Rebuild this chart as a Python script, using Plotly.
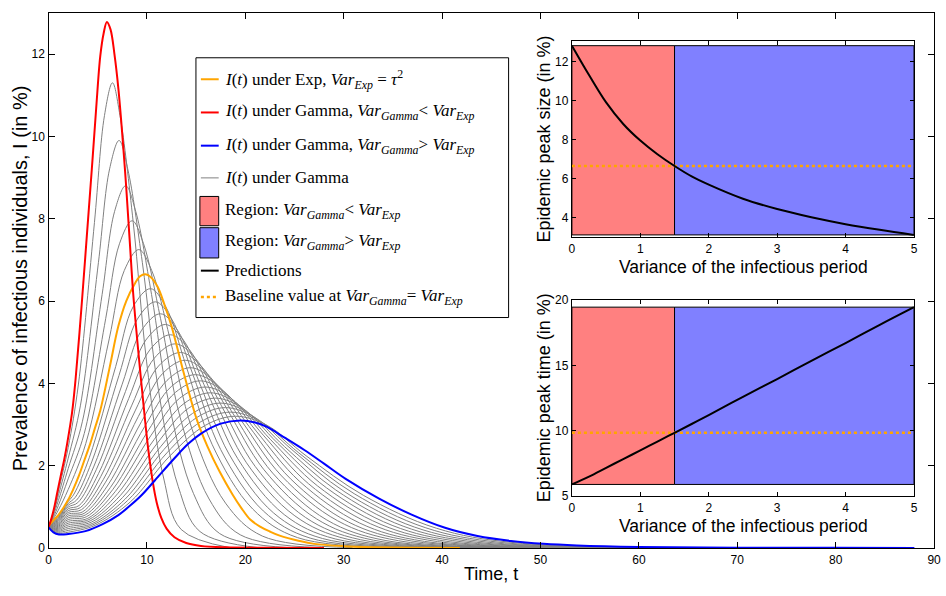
import plotly.graph_objects as go

# ---------------- main panel: prevalence curves I(t), in % ----------------
# Exponential infectious period (Var = tau^2)
exp_t = [0, 0.5, 1.0, 1.5, 2.0, 2.5, 3.08, 3.6, 4.25, 4.7, 5.26, 6.2, 7.1, 7.9, 8.77, 9.3,
         9.85, 10.4, 11.1, 11.8, 12.5, 13.8, 15.1, 16.15, 17.4, 18.7, 19.6, 20.5, 21.5,
         22.5, 23.5, 25.5, 27.0, 30.0, 33.0, 37.0, 41.8]
exp_i = [0.53, 0.67, 0.8, 0.97, 1.17, 1.42, 1.75, 2.1, 2.54, 2.9, 3.34, 4.37, 5.39, 6.0,
         6.42, 6.6, 6.65, 6.58, 6.34, 5.9, 5.39, 4.2, 3.1, 2.47, 1.85, 1.3, 0.97, 0.69,
         0.52, 0.4, 0.3, 0.17, 0.1, 0.045, 0.02, 0.007, 0.002]

# Gamma, variance below the exponential one
low_t = [0, 0.3, 0.57, 0.9, 1.24, 1.6, 1.9, 2.4, 2.75, 3.4, 3.9, 4.4, 4.85, 5.26, 5.6,
         5.93, 6.3, 6.7, 7.1, 7.77, 8.27, 8.6, 9.1, 9.78, 10.1, 10.6, 11.0, 11.46, 12.0,
         12.8, 14.0, 15.5, 18.0, 22.0, 28.0]
low_i = [0.5, 0.72, 0.97, 1.36, 1.75, 2.15, 2.54, 3.3, 4.1, 6.0, 7.6, 9.2, 10.7, 11.95,
         12.5, 12.78, 12.6, 12.0, 11.16, 9.19, 7.4, 6.2, 4.84, 3.18, 2.47, 1.6, 1.1,
         0.73, 0.47, 0.26, 0.12, 0.05, 0.015, 0.003, 0.0]

# Gamma, variance above the exponential one
high_t = [0, 0.5, 1.07, 2.0, 3.75, 5.5, 7.1, 8.3, 9.45, 10.8, 12.8, 14.2, 15.5, 17.5,
          19.5, 21.0, 22.2, 24.0, 26.0, 28.0, 30.2, 33.6, 36.9, 40.3, 43.6, 47.0, 50.3,
          53.7, 60.0, 70.0, 80.0, 88.0]
high_i = [0.5, 0.38, 0.33, 0.34, 0.41, 0.58, 0.8, 1.03, 1.28, 1.64, 2.18, 2.53, 2.78,
          3.02, 3.1, 3.05, 2.94, 2.68, 2.38, 2.05, 1.68, 1.2, 0.81, 0.49, 0.29, 0.17,
          0.1, 0.06, 0.025, 0.008, 0.003, 0.001]

# Family of Gamma curves for a range of variances
gray_t = [
    [0, 0.5, 1, 2, 3.03, 4.67, 5.69, 6.5, 7.26, 8.61, 9.97, 11.7, 13.48, 18.4],
    [0, 0.5, 1, 2, 3.25, 5.07, 6.21, 7.17, 8.05, 9.54, 11.09, 13.19, 15.39, 21.3],
    [0, 0.5, 1, 2, 3.45, 5.45, 6.72, 7.84, 8.86, 10.47, 12.23, 14.74, 17.4, 24.3],
    [0, 0.5, 1, 2, 3.63, 5.81, 7.21, 8.5, 9.66, 11.39, 13.37, 16.32, 19.49, 27.5],
    [0, 0.5, 1, 2, 3.79, 6.17, 7.70, 9.18, 10.49, 12.35, 14.57, 17.99, 21.73, 30.9],
    [0, 0.5, 1, 2, 2.59, 4.16, 6.83, 8.60, 10.36, 11.92, 14.00, 16.62, 20.76, 25.31, 36.4],
    [0, 0.5, 1, 2, 2.72, 4.39, 7.16, 9.03, 10.87, 12.52, 14.71, 17.50, 21.83, 26.59, 38.4],
    [0, 0.5, 1, 2, 2.84, 4.62, 7.49, 9.46, 11.37, 13.11, 15.40, 18.35, 22.88, 27.85, 40.3],
    [0, 0.5, 1, 2, 2.97, 4.85, 7.82, 9.89, 11.88, 13.71, 16.11, 19.23, 23.96, 29.14, 42.3],
    [0, 0.5, 1, 2, 3.10, 5.09, 8.15, 10.32, 12.39, 14.31, 16.82, 20.12, 25.04, 30.43, 44.3],
    [0, 0.5, 1, 2, 3.23, 5.32, 8.47, 10.75, 12.90, 14.92, 17.54, 21.01, 26.13, 31.72, 46.4],
    [0, 0.5, 1, 2, 3.35, 5.56, 8.80, 11.18, 13.41, 15.52, 18.25, 21.90, 27.22, 33.02, 48.4],
    [0, 0.5, 1, 2, 3.48, 5.80, 9.12, 11.60, 13.91, 16.11, 18.95, 22.78, 28.29, 34.29, 50.4],
    [0, 0.5, 1, 2, 3.61, 6.04, 9.45, 12.04, 14.42, 16.72, 19.67, 23.69, 29.39, 35.59, 52.5],
    [0, 0.5, 1, 2, 3.73, 6.29, 9.77, 12.47, 14.93, 17.33, 20.39, 24.60, 30.49, 36.90, 54.6],
    [0, 0.5, 1, 2, 3.86, 6.53, 10.10, 12.90, 15.44, 17.94, 21.11, 25.51, 31.59, 38.21, 56.7],
    [0, 0.5, 1, 2, 3.99, 6.78, 10.43, 13.34, 15.95, 18.54, 21.83, 26.43, 32.71, 39.52, 58.8],
    [0, 0.5, 1, 2, 4.11, 7.03, 10.75, 13.77, 16.45, 19.14, 22.54, 27.33, 33.80, 40.81, 60.9],
    [0, 0.5, 1, 2, 4.24, 7.28, 11.07, 14.20, 16.96, 19.75, 23.27, 28.26, 34.92, 42.13, 63.1],
    [0, 0.5, 1, 2, 4.37, 7.54, 11.39, 14.64, 17.47, 20.37, 24.00, 29.19, 36.04, 43.46, 65.3],
    [0, 0.5, 1, 2, 4.50, 7.80, 11.72, 15.07, 17.98, 20.98, 24.73, 30.13, 37.17, 44.78, 67.5],
    [0, 0.5, 1, 2, 4.62, 8.05, 12.03, 15.50, 18.48, 21.58, 25.44, 31.06, 38.28, 46.08, 69.6],
    [0, 0.5, 1, 2, 4.75, 8.32, 12.35, 15.94, 18.99, 22.20, 26.18, 32.00, 39.42, 47.41, 71.9],
]
gray_i = [
    [0.5, 0.88, 1.38, 2.44, 3.96, 7.91, 10.51, 11.3, 10.51, 7.91, 4.52, 1.70, 0.45, 0.01],
    [0.5, 0.84, 1.27, 2.18, 3.47, 6.93, 9.21, 9.9, 9.21, 6.93, 3.96, 1.49, 0.40, 0.01],
    [0.5, 0.80, 1.15, 1.93, 3.08, 6.16, 8.18, 8.8, 8.18, 6.16, 3.52, 1.32, 0.35, 0.01],
    [0.5, 0.75, 1.03, 1.68, 2.78, 5.57, 7.39, 7.95, 7.39, 5.57, 3.18, 1.19, 0.32, 0.01],
    [0.5, 0.71, 0.92, 1.42, 2.54, 5.08, 6.74, 7.25, 6.74, 5.08, 2.90, 1.09, 0.29, 0.01],
    [0.5, 0.655, 0.775, 1.126, 1.31, 2.205, 4.41, 5.86, 6.30, 5.86, 4.41, 2.52, 0.945, 0.252, 0.008],
    [0.5, 0.64, 0.75, 1.08, 1.23, 2.09, 4.19, 5.56, 5.98, 5.56, 4.19, 2.39, 0.90, 0.24, 0.008],
    [0.5, 0.624, 0.726, 1.039, 1.16, 1.99, 3.98, 5.29, 5.69, 5.29, 3.98, 2.28, 0.85, 0.23, 0.008],
    [0.5, 0.609, 0.701, 0.995, 1.10, 1.90, 3.80, 5.05, 5.43, 5.05, 3.80, 2.17, 0.81, 0.22, 0.008],
    [0.5, 0.594, 0.676, 0.952, 1.03, 1.81, 3.63, 4.82, 5.18, 4.82, 3.63, 2.07, 0.78, 0.21, 0.008],
    [0.5, 0.578, 0.652, 0.908, 0.98, 1.74, 3.47, 4.61, 4.96, 4.61, 3.47, 1.98, 0.74, 0.20, 0.008],
    [0.5, 0.563, 0.627, 0.864, 0.93, 1.66, 3.33, 4.42, 4.75, 4.42, 3.33, 1.90, 0.71, 0.19, 0.008],
    [0.5, 0.548, 0.602, 0.821, 0.88, 1.60, 3.19, 4.24, 4.56, 4.24, 3.19, 1.82, 0.68, 0.18, 0.008],
    [0.5, 0.533, 0.577, 0.777, 0.84, 1.53, 3.07, 4.07, 4.38, 4.07, 3.07, 1.75, 0.66, 0.175, 0.008],
    [0.5, 0.517, 0.553, 0.733, 0.80, 1.47, 2.95, 3.92, 4.21, 3.92, 2.95, 1.68, 0.63, 0.17, 0.008],
    [0.5, 0.502, 0.528, 0.690, 0.76, 1.42, 2.84, 3.78, 4.06, 3.78, 2.84, 1.62, 0.61, 0.16, 0.008],
    [0.5, 0.487, 0.503, 0.646, 0.72, 1.37, 2.74, 3.64, 3.91, 3.64, 2.74, 1.56, 0.59, 0.156, 0.008],
    [0.5, 0.472, 0.478, 0.602, 0.69, 1.32, 2.64, 3.51, 3.77, 3.51, 2.64, 1.51, 0.57, 0.15, 0.008],
    [0.5, 0.456, 0.454, 0.559, 0.66, 1.27, 2.55, 3.39, 3.64, 3.39, 2.55, 1.46, 0.55, 0.146, 0.008],
    [0.5, 0.441, 0.429, 0.515, 0.63, 1.23, 2.46, 3.27, 3.52, 3.27, 2.46, 1.41, 0.53, 0.14, 0.008],
    [0.5, 0.426, 0.404, 0.471, 0.60, 1.19, 2.39, 3.17, 3.41, 3.17, 2.39, 1.36, 0.51, 0.136, 0.008],
    [0.5, 0.41, 0.38, 0.427, 0.575, 1.155, 2.31, 3.07, 3.30, 3.07, 2.31, 1.32, 0.495, 0.132, 0.008],
    [0.5, 0.395, 0.355, 0.384, 0.55, 1.12, 2.24, 2.98, 3.20, 2.98, 2.24, 1.28, 0.48, 0.128, 0.008],
]

# ---------------- insets: predictions vs variance of the infectious period ----------------
var_grid = [0, 0.25, 0.5, 0.75, 1.0, 1.25, 1.5, 1.75, 2.0, 2.5, 3.0, 3.5, 4.0, 4.5, 5.0]
peak_size = [12.8, 11.3, 9.9, 8.8, 7.95, 7.25, 6.65, 6.12, 5.7, 4.98, 4.45, 4.03, 3.68, 3.39, 3.13]
peak_time = [5.9, 6.5, 7.17, 7.84, 8.5, 9.18, 9.85, 10.52, 11.2, 12.6, 13.95, 15.35, 16.7, 18.1, 19.45]
var_exp = 1.5  # tau^2

main_x_ticks = [0, 10, 20, 30, 40, 50, 60, 70, 80, 90]
main_y_ticks = [0, 2, 4, 6, 8, 10, 12]
size_ticks = [4, 6, 8, 10, 12]
time_ticks = [5, 10, 15, 20]
var_ticks = [0, 1, 2, 3, 4, 5]

ORANGE = "#FFA500"
RED = "#FF0000"
BLUE = "#0000FF"
GRAY = "#808080"
RED_REGION = "#FF8080"
BLUE_REGION = "#8080FF"
INSET_BG = "#EEF7EE"

W, H = 946, 596


def px(x):
    return x / W


def py(y):
    return 1 - y / H


fig = go.Figure()

for t, i in zip(gray_t, gray_i):
    fig.add_trace(go.Scatter(x=t, y=i, mode="lines", xaxis="x", yaxis="y",
                             line=dict(color=GRAY, width=1, shape="spline"),
                             showlegend=False, hoverinfo="skip"))
fig.add_trace(go.Scatter(x=exp_t, y=exp_i, mode="lines", xaxis="x", yaxis="y",
                         line=dict(color=ORANGE, width=2, shape="spline"), showlegend=False))
fig.add_trace(go.Scatter(x=low_t, y=low_i, mode="lines", xaxis="x", yaxis="y",
                         line=dict(color=RED, width=2, shape="spline"), showlegend=False))
fig.add_trace(go.Scatter(x=high_t, y=high_i, mode="lines", xaxis="x", yaxis="y",
                         line=dict(color=BLUE, width=2, shape="spline"), showlegend=False))

# inset panels: regions, baseline and predictions
base_idx = var_grid.index(var_exp)
for vals, xa, ya in ((peak_size, "x2", "y2"), (peak_time, "x3", "y3")):
    lo, hi = min(vals), max(vals)
    v0, v1 = var_grid[0], var_grid[-1]
    fig.add_trace(go.Scatter(x=[v0, var_exp, var_exp, v0, v0], y=[lo, lo, hi, hi, lo],
                             mode="lines", fill="toself", fillcolor=RED_REGION,
                             line=dict(color="black", width=1), xaxis=xa, yaxis=ya,
                             showlegend=False, hoverinfo="skip"))
    fig.add_trace(go.Scatter(x=[var_exp, v1, v1, var_exp, var_exp], y=[lo, lo, hi, hi, lo],
                             mode="lines", fill="toself", fillcolor=BLUE_REGION,
                             line=dict(color="black", width=1), xaxis=xa, yaxis=ya,
                             showlegend=False, hoverinfo="skip"))
    fig.add_trace(go.Scatter(x=[v0, v1], y=[vals[base_idx], vals[base_idx]], mode="lines",
                             line=dict(color=ORANGE, width=2.5, dash="dot"),
                             xaxis=xa, yaxis=ya, showlegend=False))
    fig.add_trace(go.Scatter(x=var_grid, y=vals, mode="lines",
                             line=dict(color="black", width=2, shape="spline"),
                             xaxis=xa, yaxis=ya, showlegend=False))

tick_font = dict(family="Liberation Sans", size=12, color="black")
axis_common = dict(showline=True, linecolor="black", linewidth=1.3, mirror="ticks",
                   ticks="inside", tickcolor="black", showgrid=False, zeroline=False,
                   tickfont=tick_font)

main_dx = [px(46), px(941)]
main_dy = [py(554), py(6)]
ins_dx = [px(575), px(920.7)]
ins1_dy = [py(236), py(35)]
ins2_dy = [py(501), py(300)]

fig.update_layout(
    width=W, height=H,
    margin=dict(l=0, r=0, t=0, b=0),
    paper_bgcolor="white", plot_bgcolor="white",
    showlegend=False,
    xaxis=dict(domain=main_dx, range=[0, 90], tickvals=main_x_ticks, ticklen=6,
               anchor="y", **axis_common),
    yaxis=dict(domain=main_dy, range=[0, 13], tickvals=main_y_ticks, ticklen=6,
               anchor="x", **axis_common),
    xaxis2=dict(domain=ins_dx, range=[0, 5], tickvals=var_ticks, ticklen=4,
                anchor="y2", **axis_common),
    yaxis2=dict(domain=ins1_dy, range=[3.0, 13.03], tickvals=size_ticks, ticklen=4,
                anchor="x2", **axis_common),
    xaxis3=dict(domain=ins_dx, range=[0, 5], tickvals=var_ticks, ticklen=4,
                anchor="y3", **axis_common),
    yaxis3=dict(domain=ins2_dy, range=[5, 20], tickvals=time_ticks, ticklen=4,
                anchor="x3", **axis_common),
)

shapes = []
for xa, ya in (("x2", "y2"), ("x3", "y3")):
    shapes.append(dict(type="rect", xref=f"{xa} domain", yref=f"{ya} domain",
                       x0=0, x1=1, y0=0, y1=1, fillcolor=INSET_BG,
                       line=dict(width=0), layer="below"))

# legend box
leg_x0, leg_x1 = px(195), px(511)
shapes.append(dict(type="rect", xref="paper", yref="paper", x0=leg_x0, x1=leg_x1,
                   y0=py(318), y1=py(52), fillcolor="white",
                   line=dict(color="black", width=1), layer="above"))

sym_x0, sym_x1 = px(200), px(218)
text_x = px(222)
legend_rows = [
    (74, "line", ORANGE, 2, "solid",
     "<i>I</i>(<i>t</i>) under Exp, <i>Var<sub>Exp</sub></i> = <i>τ</i><sup>2</sup>"),
    (108, "line", RED, 2, "solid",
     "<i>I</i>(<i>t</i>) under Gamma, <i>Var<sub>Gamma</sub></i>&lt; <i>Var<sub>Exp</sub></i>"),
    (142, "line", BLUE, 2, "solid",
     "<i>I</i>(<i>t</i>) under Gamma, <i>Var<sub>Gamma</sub></i>&gt; <i>Var<sub>Exp</sub></i>"),
    (175, "line", GRAY, 1, "solid", "<i>I</i>(<i>t</i>) under Gamma"),
    (209, "box", RED_REGION, (194, 224), None,
     "Region: <i>Var<sub>Gamma</sub></i>&lt; <i>Var<sub>Exp</sub></i>"),
    (241, "box", BLUE_REGION, (226, 257), None,
     "Region: <i>Var<sub>Gamma</sub></i>&gt; <i>Var<sub>Exp</sub></i>"),
    (270, "line", "black", 2, "solid", "Predictions"),
    (297, "line", ORANGE, 2.5, "dot",
     "Baseline value at <i>Var<sub>Gamma</sub></i>= <i>Var<sub>Exp</sub></i>"),
]

annotations = []
for yrow, kind, color, extra, dash, label in legend_rows:
    if kind == "line":
        shapes.append(dict(type="line", xref="paper", yref="paper", x0=sym_x0, x1=sym_x1,
                           y0=py(yrow), y1=py(yrow), layer="above",
                           line=dict(color=color, width=extra, dash=dash)))
    else:
        top, bot = extra
        shapes.append(dict(type="rect", xref="paper", yref="paper", x0=px(199), x1=px(218),
                           y0=py(bot), y1=py(top), fillcolor=color, layer="above",
                           line=dict(color="black", width=1)))
    annotations.append(dict(xref="paper", yref="paper", x=text_x, y=py(yrow), text=label,
                            showarrow=False, xanchor="left", yanchor="middle",
                            font=dict(family="Liberation Serif", size=17, color="black")))

title_font = dict(family="Liberation Sans", color="black")
annotations += [
    dict(xref="paper", yref="paper", x=px(493), y=py(581), text="Time, t",
         showarrow=False, xanchor="center", yanchor="middle", font=dict(size=18, **title_font)),
    dict(xref="paper", yref="paper", x=px(18), y=py(278),
         text="Prevalence of infectious individuals, I (in %)", textangle=-90,
         showarrow=False, xanchor="center", yanchor="middle", font=dict(size=20, **title_font)),
    dict(xref="paper", yref="paper", x=px(748), y=py(266),
         text="Variance of the infectious period",
         showarrow=False, xanchor="center", yanchor="middle", font=dict(size=17.5, **title_font)),
    dict(xref="paper", yref="paper", x=px(748), y=py(531),
         text="Variance of the infectious period",
         showarrow=False, xanchor="center", yanchor="middle", font=dict(size=17.5, **title_font)),
    dict(xref="paper", yref="paper", x=px(547), y=py(135.5),
         text="Epidemic peak size (in %)", textangle=-90,
         showarrow=False, xanchor="center", yanchor="middle", font=dict(size=18, **title_font)),
    dict(xref="paper", yref="paper", x=px(547), y=py(400.5),
         text="Epidemic peak time (in %)", textangle=-90,
         showarrow=False, xanchor="center", yanchor="middle", font=dict(size=18, **title_font)),
]

fig.update_layout(shapes=shapes, annotations=annotations)
fig.write_html("out.html")
